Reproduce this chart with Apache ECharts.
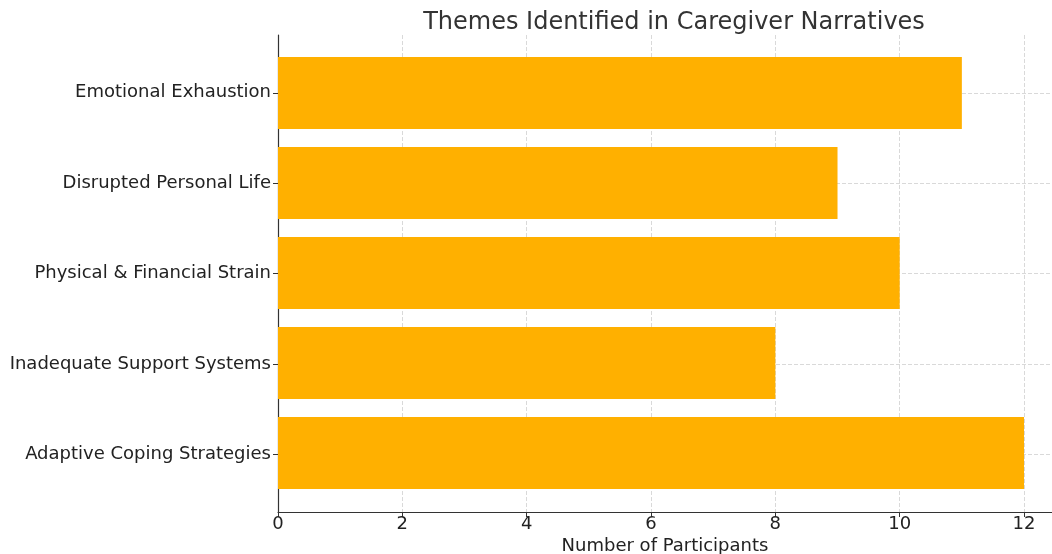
<!DOCTYPE html>
<html>
<head>
<meta charset="utf-8">
<script src="https://cdn.jsdelivr.net/npm/echarts@6/dist/echarts.min.js"></script>
<style>
html, body { margin: 0; padding: 0; background: #fff; }
#chart { width: 1052px; height: 554px; }
</style>
</head>
<body>
<div id="chart"></div>
<script>
// themes, top to bottom as in the chart
var themes = ['Emotional Exhaustion', 'Disrupted Personal Life', 'Physical & Financial Strain',
    'Inadequate Support Systems', 'Adaptive Coping Strategies'];
var participants = [11, 9, 10, 8, 12];

var font = 'DejaVu Sans';
var rowPos = themes.map(function (t, i) { return i; });
var xMax = 12.45;

// grid 0 draws the frame (axes, ticks, labels, grid lines) with a little margin like matplotlib,
// grid 1 holds the bars on a plain category axis of 90px bands
echarts.init(document.getElementById('chart')).setOption({
    animation: false,
    title: {
        text: 'Themes Identified in Caregiver Narratives',
        left: 669, textAlign: 'center', top: 6,
        textStyle: { fontFamily: font, fontSize: 24, fontWeight: 'normal', color: '#333' }
    },
    grid: [
        { left: 278, right: 0, top: 35, bottom: 42, outerBoundsMode: 'none' },
        { left: 278, right: 0, top: 48, bottom: 56, outerBoundsMode: 'none' }
    ],
    xAxis: [{
        type: 'value', min: 0, max: xMax, interval: 2, gridIndex: 0,
        name: 'Number of Participants', nameLocation: 'middle', nameGap: 25, nameMoveOverlap: false,
        nameTextStyle: { fontFamily: font, fontSize: 18, color: '#222', verticalAlign: 'top' },
        axisLine: { show: true, onZero: false, lineStyle: { color: '#333', width: 1.2 } },
        axisTick: { show: true, length: 5, lineStyle: { color: '#333' } },
        axisLabel: { fontFamily: font, fontSize: 18, color: '#222', margin: 3, showMaxLabel: false },
        splitLine: { show: true, lineStyle: { color: '#d9d9d9', type: 'dashed' } }
    }, {
        type: 'value', min: 0, max: xMax, gridIndex: 1, show: false
    }],
    yAxis: [{
        type: 'value', inverse: true, min: -0.64, max: 4.64, gridIndex: 0,
        axisLine: { show: true, onZero: false, lineStyle: { color: '#333', width: 1.2 } },
        axisTick: { show: true, length: 5, lineStyle: { color: '#333' }, customValues: rowPos },
        axisLabel: {
            fontFamily: font, fontSize: 18, color: '#222', margin: 7, customValues: rowPos,
            formatter: function (v) { return themes[Math.round(v)] || ''; }
        },
        splitLine: { show: true, lineStyle: { color: '#d9d9d9', type: 'dashed' } }
    }, {
        type: 'category', inverse: true, data: themes, gridIndex: 1, show: false
    }],
    series: [{
        type: 'bar',
        xAxisIndex: 1, yAxisIndex: 1,
        barWidth: '80%',
        itemStyle: { color: '#FFB000' },
        data: participants
    }]
});
</script>
</body>
</html>
